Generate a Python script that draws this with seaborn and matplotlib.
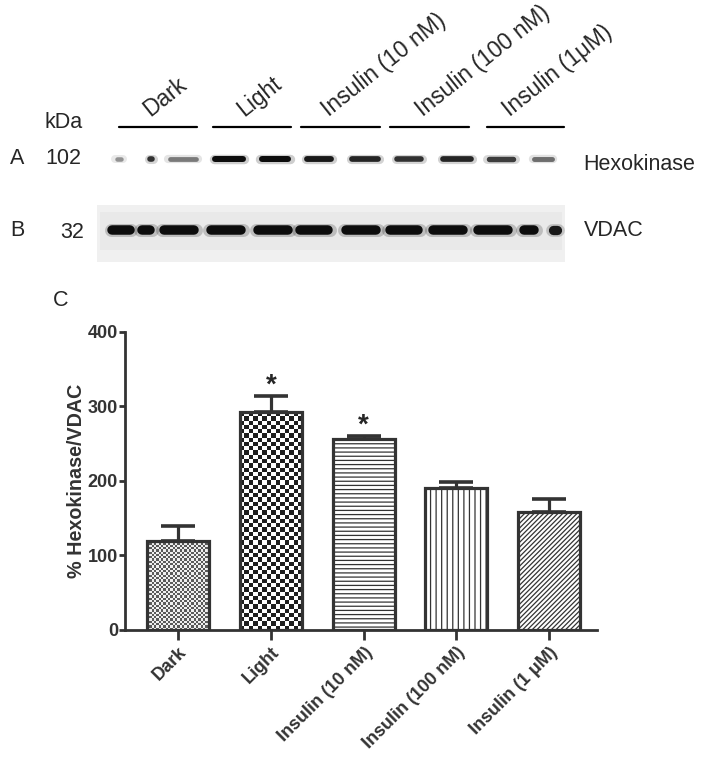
import numpy as np
import matplotlib
matplotlib.use('Agg')
import matplotlib.pyplot as plt
import seaborn as sns
from matplotlib.patches import Rectangle

# Панель C: среднее и ошибка (% Hexokinase/VDAC)
groups = ['Dark', 'Light', 'Insulin (10 nM)', 'Insulin (100 nM)', 'Insulin (1 μM)']
means = [120, 292, 256, 191, 158]
sems = [19, 22, 4, 8, 18]
signif = [False, True, True, False, False]

# Панели A и B: блот, положение дорожек и сила сигнала
blot_groups = ['Dark', 'Light', 'Insulin (10 nM)', 'Insulin (100 nM)', 'Insulin (1μM)']
hk_lane_x = [119, 151, 183, 229, 275, 319, 365, 409, 457, 501, 543]
hk_lane_w = [9, 7, 31, 34, 33, 29, 31, 29, 33, 30, 22]
hk_signal = [0.45, 0.85, 0.55, 1.0, 1.0, 0.95, 0.9, 0.85, 0.9, 0.8, 0.6]
vdac_lane_x = [121, 146, 179, 226, 273, 314, 361, 404, 448, 493, 529, 555]
vdac_lane_w = [27, 18, 40, 40, 40, 38, 40, 38, 40, 40, 20, 13]
vdac_signal = [1.0, 1.0, 1.0, 1.0, 1.0, 1.0, 1.0, 1.0, 1.0, 1.0, 1.0, 0.95]
group_spans = [(119, 197), (213, 291), (301, 380), (390, 469), (487, 564)]

sns.set_style('ticks')
plt.rcParams['font.family'] = ['Liberation Sans', 'DejaVu Sans']
plt.rcParams['hatch.linewidth'] = 0.9

INK = '#333333'
fig = plt.figure(figsize=(7.02, 7.61), dpi=100)

# ---------- блот (A, B) ----------
axb = fig.add_axes([0, 0, 1, 1])
axb.set_xlim(0, 702)
axb.set_ylim(761, 0)
axb.axis('off')


def draw_bands(ax, xs, ws, sig, y, thick):
    for x, w, s in zip(xs, ws, sig):
        lw_core = (thick * (0.55 + 0.45 * s)) * 0.72
        grey = str(round(1 - 0.95 * s, 3))
        half = max(w / 2 - lw_core * 0.7, 0.5)
        ax.hlines(y, x - half - 1.5, x + half + 1.5, colors=grey, linewidth=lw_core + 2.5,
                  alpha=0.2, capstyle='round')
        ax.hlines(y, x - half, x + half, colors=grey, linewidth=lw_core, capstyle='round')


axb.add_patch(Rectangle((97, 205), 468, 57, facecolor='#f0f0f0', edgecolor='none'))
axb.add_patch(Rectangle((100, 212), 462, 38, facecolor='#e9e9e9', edgecolor='none'))
draw_bands(axb, hk_lane_x, hk_lane_w, hk_signal, 159, 6)
draw_bands(axb, vdac_lane_x, vdac_lane_w, vdac_signal, 230, 9.5)

label_x = [150, 244, 329, 423, 510]
for (x0, x1), lx, name in zip(group_spans, label_x, blot_groups):
    axb.plot([x0, x1], [127, 127], color='black', linewidth=1.6)
    axb.text(lx, 117, name, rotation=38.5, rotation_mode='anchor',
             ha='left', va='baseline', fontsize=16.5)

axb.text(45, 122, 'kDa', fontsize=15.5, va='center')
axb.text(10, 159, 'A', fontsize=15.5, va='center')
axb.text(45, 159, '102', fontsize=15.5, va='center')
axb.text(583, 165, 'Hexokinase', fontsize=15.5, va='center')
axb.text(10, 231, 'B', fontsize=15.5, va='center')
axb.text(60, 233, '32', fontsize=15.5, va='center')
axb.text(584, 230, 'VDAC', fontsize=15.5, va='center')
axb.text(53, 300, 'C', fontsize=15.5, va='center')

# ---------- столбики (C) ----------
ax = fig.add_axes([125 / 702, (761 - 630) / 761, 472 / 702, 298.3 / 761])
ax.patch.set_alpha(0)
sns.barplot(x=groups, y=means, color='white', edgecolor=INK, linewidth=2.3,
            width=0.67, errorbar=None, ax=ax, zorder=2, saturation=1)
ax.set_xlim(-0.571, 4.515)
ax.set_ylim(0, 400)

bars = ax.patches
bars[2].set_hatch('----')
bars[3].set_hatch('|||')
bars[4].set_hatch('///////')


# шахматная заливка для Dark и Light
def checker_fill(patch, cell_px, dark, light):
    bb = patch.get_bbox()
    ext = patch.get_window_extent()
    nx = max(1, int(round(ext.width / cell_px)))
    ny = max(1, int(round(ext.height / cell_px)))
    ii, jj = np.indices((ny, nx))
    tex = np.where((ii + jj) % 2 == 0, dark, light)
    im = ax.imshow(tex, cmap='gray', vmin=0, vmax=1, origin='lower', aspect='auto',
                   extent=[bb.x0, bb.x1, bb.y0, bb.y1], interpolation='nearest', zorder=1.5)
    im.set_clip_path(patch)
    patch.set_facecolor('none')


checker_fill(bars[0], 2.3, 0.35, 0.93)
checker_fill(bars[1], 4.3, 0.12, 1.0)
ax.set_xlim(-0.571, 4.515)
ax.set_ylim(0, 400)

ax.errorbar(x=np.arange(len(means)), y=means, yerr=[np.zeros(len(sems)), sems], fmt='none',
            ecolor=INK, elinewidth=2.3, capsize=12, capthick=2.6, zorder=3)
for i, (m, s, star) in enumerate(zip(means, sems, signif)):
    if star:
        ax.text(i, m + s + 14, '*', ha='center', va='center', fontsize=20, fontweight='bold')

sns.despine(ax=ax)
for side in ['left', 'bottom']:
    ax.spines[side].set_linewidth(2)
    ax.spines[side].set_color(INK)
ax.set_yticks([0, 100, 200, 300, 400])
ax.tick_params(axis='y', length=4, width=2, color=INK, pad=1, labelsize=13)
ax.tick_params(axis='x', length=7, width=2, color=INK, pad=3, labelsize=13)
for lab in ax.get_yticklabels():
    lab.set_fontweight('bold')
    lab.set_color(INK)
ax.set_xticks(range(len(groups)))
ax.set_xticklabels(groups, rotation=45, ha='right', rotation_mode='anchor',
                   fontweight='bold', color=INK)
ax.set_xlabel('')
ax.set_ylabel('% Hexokinase/VDAC', fontsize=14.2, fontweight='bold', color=INK, labelpad=1)

fig.savefig('out.png', dpi=100)
